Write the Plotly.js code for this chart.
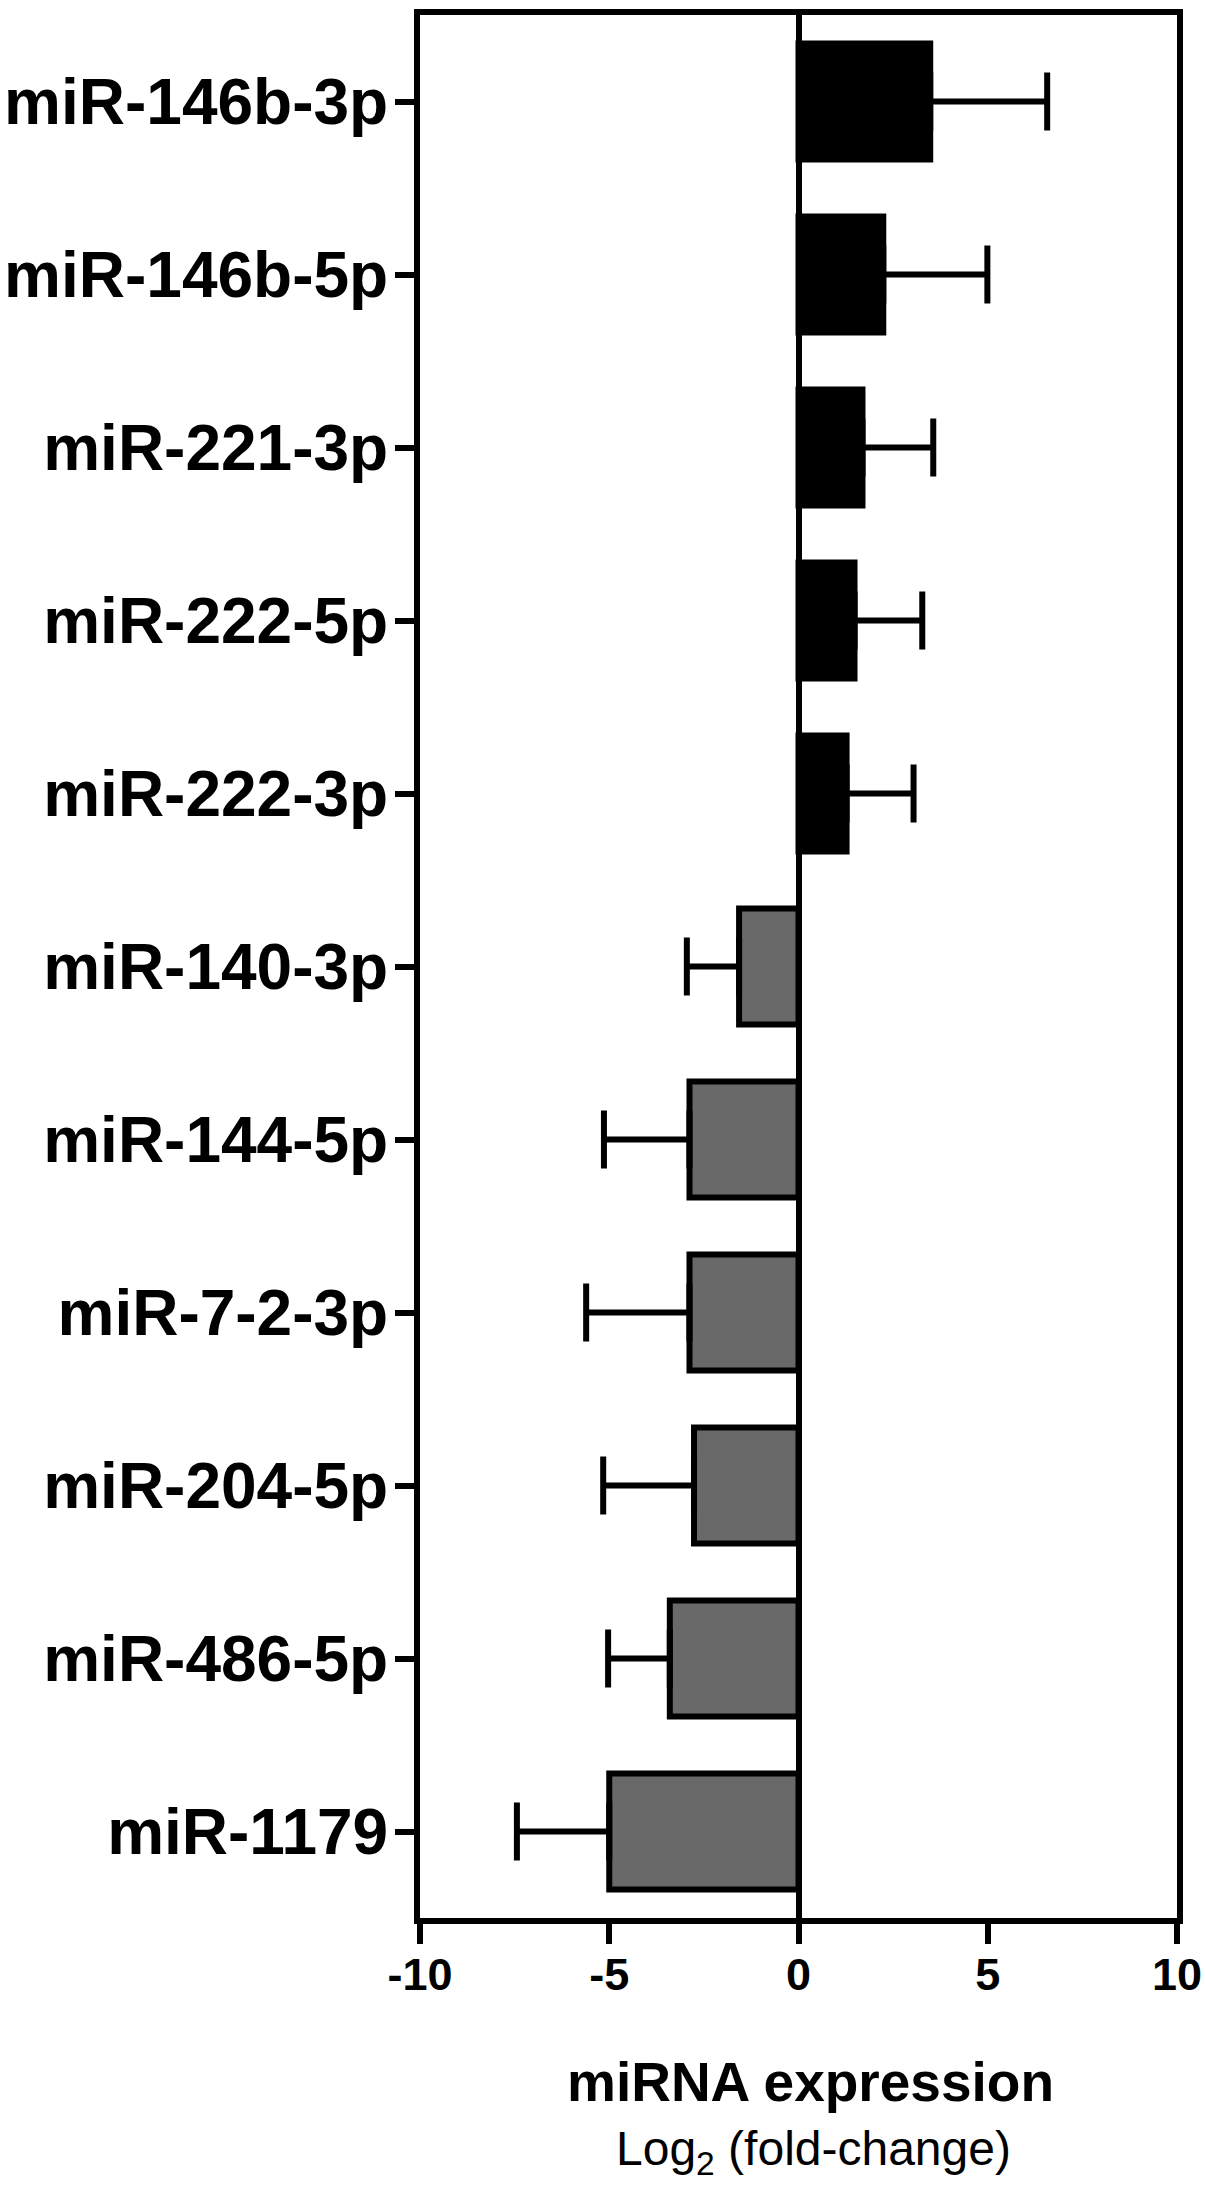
<!DOCTYPE html>
<html>
<head>
<meta charset="utf-8">
<script src="https://cdn.plot.ly/plotly-3.0.1.min.js"></script>
<style>
  html, body { margin: 0; padding: 0; background: #fff; }
  #chart { width: 1205px; height: 2192px; }
</style>
</head>
<body>
<div id="chart"></div>
<script>
// miRNA log2 fold-change, top to bottom
var mirnas = ['miR-146b-3p', 'miR-146b-5p', 'miR-221-3p', 'miR-222-5p', 'miR-222-3p',
              'miR-140-3p', 'miR-144-5p', 'miR-7-2-3p', 'miR-204-5p', 'miR-486-5p', 'miR-1179'];
var log2fc = [3.48, 2.24, 1.69, 1.48, 1.27, -1.57, -2.88, -2.88, -2.76, -3.40, -5.0];
var sem = [3.09, 2.75, 1.87, 1.79, 1.77, 1.38, 2.26, 2.73, 2.40, 1.63, 2.44];
var xTicks = [-10, -5, 0, 5, 10];

var FONT = '"Liberation Sans", Arial, Helvetica, sans-serif';

var up = { y: [], x: [], e: [] };
var down = { y: [], x: [], e: [] };
mirnas.forEach(function(m, i) {
    var g = log2fc[i] >= 0 ? up : down;
    g.y.push(m);
    g.x.push(log2fc[i]);
    g.e.push(sem[i]);
});

function barTrace(g, fill) {
    return {
        type: 'bar',
        orientation: 'h',
        y: g.y,
        x: g.x,
        width: 0.67,
        marker: { color: fill, line: { color: '#000', width: 6 } },
        error_x: {
            type: 'data',
            array: g.x.map(function(v, i) { return v >= 0 ? g.e[i] : 0; }),
            arrayminus: g.x.map(function(v, i) { return v < 0 ? g.e[i] : 0; }),
            symmetric: false,
            color: '#000',
            thickness: 6,
            width: 29
        },
        hoverinfo: 'none'
    };
}

var data = [barTrace(up, '#000000'), barTrace(down, '#696969')];

var layout = {
    width: 1205,
    height: 2192,
    margin: { l: 420, r: 28, t: 15, b: 274 },
    paper_bgcolor: '#fff',
    plot_bgcolor: '#fff',
    showlegend: false,
    barmode: 'overlay',
    font: { family: FONT, color: '#000' },
    xaxis: {
        range: [-10, 10],
        tickvals: xTicks,
        ticktext: xTicks.map(String),
        ticks: 'outside',
        ticklen: 20,
        tickwidth: 6,
        tickcolor: '#000',
        ticklabelstandoff: -8,
        tickfont: { size: 45, family: FONT, weight: 'bold' },
        showline: true,
        linewidth: 6,
        linecolor: '#000',
        mirror: true,
        showgrid: false,
        zeroline: true,
        zerolinecolor: '#000',
        zerolinewidth: 6,
        fixedrange: true
    },
    yaxis: {
        type: 'category',
        categoryorder: 'array',
        categoryarray: mirnas,
        autorange: 'reversed',
        ticks: 'outside',
        ticklen: 19,
        tickwidth: 6,
        tickcolor: '#000',
        ticklabelstandoff: -6,
        tickfont: { size: 64, family: FONT, weight: 'bold' },
        showline: true,
        linewidth: 6,
        linecolor: '#000',
        mirror: true,
        showgrid: false,
        zeroline: false,
        fixedrange: true
    },
    annotations: [
        {
            text: '<b>miRNA expression</b>',
            xref: 'paper', yref: 'paper',
            x: 0.516, y: 0,
            xanchor: 'center', yanchor: 'middle',
            yshift: -164,
            showarrow: false,
            font: { size: 55, family: FONT, color: '#000' }
        },
        {
            text: 'Log<sub>2</sub> (fold-change)',
            xref: 'paper', yref: 'paper',
            x: 0.52, y: 0,
            xanchor: 'center', yanchor: 'middle',
            yshift: -234,
            showarrow: false,
            font: { size: 48, family: FONT, color: '#000' }
        }
    ]
};

Plotly.newPlot('chart', data, layout, { staticPlot: true });
</script>
</body>
</html>
